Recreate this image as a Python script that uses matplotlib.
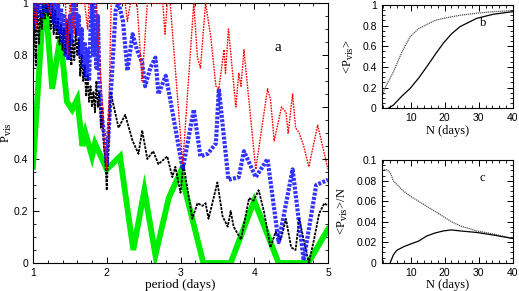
import numpy as np
import matplotlib
matplotlib.use("Agg")
import matplotlib.pyplot as plt
from matplotlib.ticker import MultipleLocator, FormatStrFormatter

# ---------------- data ----------------
black_p = [1.00,1.02,1.04,1.06,1.08,1.10,1.12,1.14,1.16,1.18,1.20,1.22,1.24,1.26,1.28,1.30,
           1.32,1.34,1.36,1.38,1.40,1.42,1.44,1.46,1.48,1.50,1.52,1.54,1.56,1.58,1.60,1.62,
           1.64,1.66,1.68,1.70,1.72,1.74,1.76,1.78,1.80,1.82,1.84,1.86,1.88,1.90,1.92,1.94,
           1.96,1.98,2.00,
           2.05,2.16,2.25,2.35,2.43,2.48,2.55,2.63,2.70,2.82,2.89,2.93,3.00,3.04,3.16,3.23,
           3.30,3.34,3.38,3.50,3.57,3.64,3.68,3.72,3.82,3.93,3.99,4.06,4.13,4.22,4.29,4.36,
           4.43,4.50,4.56,4.61,4.67,4.74,4.81,4.88,4.95,5.00]
black_v = [0.70,0.98,0.76,1.00,0.84,0.97,0.90,1.00,0.94,1.00,0.95,1.00,0.90,0.99,0.88,0.97,
           0.86,0.94,0.84,0.92,0.82,0.90,0.80,0.92,0.78,0.88,0.76,0.86,0.78,0.90,0.80,0.86,
           0.72,0.80,0.70,0.76,0.64,0.72,0.62,0.68,0.60,0.66,0.58,0.70,0.60,0.66,0.52,0.60,
           0.45,0.40,0.28,
           0.66,0.52,0.57,0.47,0.42,0.51,0.40,0.43,0.38,0.41,0.33,0.37,0.27,0.38,0.17,0.23,
           0.22,0.23,0.17,0.31,0.18,0.14,0.20,0.14,0.09,0.25,0.24,0.28,0.20,0.06,0.12,0.09,
           0.17,0.06,0.05,0.17,0.09,0.00,0.09,0.19,0.23,0.22]

blue_p = [1.00,1.02,1.04,1.06,1.08,1.10,1.12,1.14,1.16,1.18,1.20,1.22,1.24,1.26,1.28,1.30,
          1.32,1.34,1.36,1.38,1.40,1.42,1.44,1.46,1.48,1.50,1.52,1.54,1.56,1.58,1.60,1.62,
          1.64,1.66,1.68,1.70,1.72,1.74,1.76,1.78,1.80,1.82,1.84,1.86,1.88,1.90,1.92,1.94,
          1.96,1.98,2.00,
          2.12,2.16,2.22,2.28,2.35,2.41,2.48,2.52,2.59,2.66,2.70,2.80,2.86,3.03,3.18,3.27,
          3.37,3.48,3.52,3.65,3.79,3.86,4.02,4.18,4.33,4.52,4.67,4.84,5.00]
blue_v = [0.90,1.00,0.92,1.00,0.96,1.00,0.95,1.00,1.00,0.97,1.00,1.00,0.96,1.00,0.93,1.00,
          0.90,1.00,0.88,0.98,0.85,0.95,0.80,0.93,0.78,0.95,0.85,1.00,0.90,1.00,0.88,0.95,
          0.80,0.90,0.75,0.85,0.72,0.82,0.70,0.90,1.00,0.80,1.00,0.75,0.95,0.70,0.62,0.55,
          0.50,0.45,0.38,
          0.97,1.00,0.93,0.74,0.88,0.82,0.77,0.68,0.75,0.79,0.65,0.72,0.63,0.36,0.59,0.41,
          0.42,0.46,0.67,0.32,0.33,0.43,0.33,0.40,0.08,0.36,0.01,0.30,0.32]

red_p = [1.00,1.04,1.06,1.20,1.24,1.26,1.44,1.47,1.50,1.56,1.58,1.70,1.74,1.76,1.86,1.90,
         1.94,1.97,2.00,2.03,2.06,2.25,2.28,2.32,2.41,2.48,2.55,2.76,2.79,2.82,2.86,3.03,
         3.18,3.23,3.27,3.34,3.41,3.48,3.52,3.59,3.61,3.65,3.75,3.79,3.82,3.86,4.02,4.18,
         4.22,4.27,4.37,4.43,4.46,4.52,4.56,4.61,4.67,4.74,4.86,5.00]
red_v = [1.00,0.90,1.00,1.00,0.95,1.00,1.00,0.80,1.00,0.88,1.00,1.00,0.90,1.00,1.00,0.80,
         0.60,0.45,0.36,0.60,1.00,1.00,0.93,1.00,1.00,0.70,1.00,1.00,0.88,1.00,1.00,0.38,
         1.00,0.79,0.75,1.00,0.87,0.68,0.67,0.82,0.73,0.90,0.60,0.73,0.68,0.82,0.36,0.67,
         0.63,0.47,0.60,0.58,0.50,0.65,0.52,0.50,0.45,0.37,0.53,0.36]

green_p = [1.00,1.13,1.17,1.26,1.37,1.46,1.53,1.60,1.67,1.71,1.80,1.84,2.00,
           2.18,2.36,2.51,2.66,2.84,3.00,3.31,3.68,4.00,4.33,4.73,5.00]
green_v = [0.37,0.95,1.00,0.67,0.87,0.62,0.59,0.63,0.45,0.50,0.41,0.46,0.36,
           0.41,0.05,0.28,0.03,0.25,0.35,0.00,0.00,0.24,0.00,0.00,0.13]

N_b = [1.5, 2.5, 4.9, 7.5, 9.8, 12.3, 14.7, 17.2, 19.6, 24.5, 29.4, 34.3, 40.0]
vis_dotted = [0.11, 0.20, 0.35, 0.55, 0.69, 0.77, 0.81, 0.85, 0.87, 0.90, 0.92, 0.935, 0.945]
N_s = [3.4, 4.9, 7.5, 9.8, 12.3, 14.7, 17.2, 19.6, 22.0, 24.5, 29.4, 34.3, 40.0]
vis_solid = [0.0, 0.03, 0.12, 0.19, 0.29, 0.40, 0.52, 0.63, 0.72, 0.79, 0.87, 0.91, 0.935]

N_c = [1.5, 3.0, 4.0, 4.9, 7.5, 9.8, 12.3, 14.7, 17.2, 19.6, 22.0, 24.5, 29.4, 34.3, 40.0]
ratio_dotted = [0.0906, 0.0906, 0.088, 0.080, 0.071, 0.065, 0.060, 0.055, 0.050, 0.045,
                0.040, 0.036, 0.031, 0.028, 0.0236]
N_cs = [4.0, 4.9, 5.9, 7.9, 9.8, 12.3, 14.7, 17.2, 19.6, 22.0, 24.5, 29.4, 34.3, 40.0]
ratio_solid = [0.0, 0.0075, 0.012, 0.0155, 0.018, 0.021, 0.026, 0.029, 0.031, 0.032,
               0.031, 0.0295, 0.027, 0.0236]

# ---------------- figure ----------------
plt.rcParams['mathtext.fontset'] = 'dejavuserif'
serif = ['Liberation Serif', 'DejaVu Serif']
sans = ['Liberation Sans', 'DejaVu Sans']
fig = plt.figure(figsize=(5.19, 2.91), dpi=100)

def style(ax, xmaj, xmin, ymaj, ymin, yfmt):
    ax.tick_params(which='both', direction='in', top=True, right=True, labelsize=7.5)
    ax.tick_params(which='major', length=4, width=0.7)
    ax.tick_params(which='minor', length=2, width=0.6)
    ax.xaxis.set_major_locator(MultipleLocator(xmaj))
    ax.xaxis.set_minor_locator(MultipleLocator(xmin))
    ax.yaxis.set_major_locator(MultipleLocator(ymaj))
    ax.yaxis.set_minor_locator(MultipleLocator(ymin))
    ax.yaxis.set_major_formatter(FormatStrFormatter(yfmt))
    for lab in ax.get_xticklabels() + ax.get_yticklabels():
        lab.set_family(sans)
    for s in ax.spines.values():
        s.set_linewidth(0.8)

ax = fig.add_axes([0.0636, 0.0962, 0.5684, 0.8935])
ax.plot(green_p, green_v, color='#00ee00', lw=4.2, solid_joinstyle='miter', zorder=2)
ax.plot(black_p, black_v, color='black', lw=1.3, linestyle=(0, (1.5, 0.6)), zorder=3)
ax.plot(blue_p, blue_v, color='#0000ff', lw=3.0, linestyle=(0, (0.7, 0.35)), alpha=0.8, zorder=4)
ax.plot(red_p, red_v, color='#ff0000', lw=1.0, linestyle=(0, (1.2, 0.8)), zorder=5)
ax.set_xlim(1, 5)
ax.set_ylim(0, 1)
style(ax, 1, 0.2, 0.2, 0.05, '%g')
ax.set_xlabel('period (days)', fontsize=9.5, family=serif, labelpad=1)
ax.set_ylabel(r'P$_{\rm vis}$', fontsize=9, family=serif)
ax.yaxis.set_label_coords(-0.066, 0.5)
ax.text(4.32, 0.83, 'a', fontsize=11, family=serif, ha='center', va='center')

axb = fig.add_axes([0.7355, 0.628, 0.2524, 0.355])
axb.plot(N_b, vis_dotted, color='#555555', lw=0.9, linestyle=(0, (1, 0.6)))
axb.plot(N_s, vis_solid, color='black', lw=0.9)
axb.set_xlim(1.5, 40)
axb.set_ylim(0, 1)
style(axb, 10, 2, 0.2, 0.05, '%g')
axb.set_xlabel('N (days)', fontsize=9, family=serif, labelpad=1)
axb.set_ylabel(r'<P$_{\rm vis}$>', fontsize=9, family=serif)
axb.yaxis.set_label_coords(-0.2, 0.5)
axb.text(31.3, 0.83, 'b', fontsize=9, family=serif, ha='center', va='center')

axc = fig.add_axes([0.7355, 0.0973, 0.2524, 0.3522])
axc.plot(N_c, ratio_dotted, color='#555555', lw=0.9, linestyle=(0, (1, 0.6)))
axc.plot(N_cs, ratio_solid, color='black', lw=0.9)
axc.set_xlim(1.5, 40)
axc.set_ylim(0, 0.1)
style(axc, 10, 2, 0.02, 0.005, '%g')
axc.set_xlabel('N (days)', fontsize=9, family=serif, labelpad=1)
axc.set_ylabel(r'<P$_{\rm vis}$>/N', fontsize=9, family=serif)
axc.yaxis.set_label_coords(-0.24, 0.5)
axc.text(31.0, 0.083, 'c', fontsize=9, family=serif, ha='center', va='center')

fig.savefig('out.png', dpi=100)
